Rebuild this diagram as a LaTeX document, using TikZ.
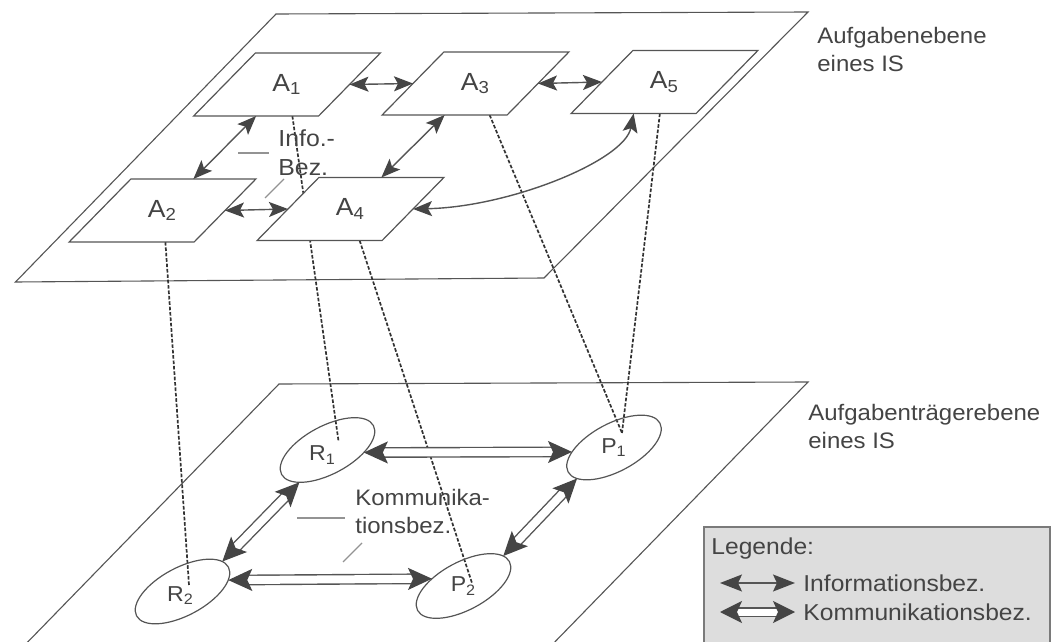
\documentclass[tikz,border=0pt]{standalone}
\usepackage{fontspec}
\setmainfont{Liberation Sans}[FakeStretch=1.07]
\usetikzlibrary{arrows.meta,calc,shapes.geometric}
\pgfdeclarelayer{bg}
\pgfsetlayers{bg,main}
\definecolor{linec}{HTML}{555555}
\definecolor{headc}{HTML}{454545}
\definecolor{txtc}{HTML}{444444}
\definecolor{dashc}{HTML}{333333}
\definecolor{legfill}{HTML}{DDDDDD}
\definecolor{legline}{HTML}{7A7A7A}
\begin{document}
\begin{tikzpicture}[x=0.5pt,y=-0.5pt,
  plane/.style={draw=linec, line width=0.55pt},
  task/.style={draw=linec, fill=white, line width=0.6pt, xslant=0.98,
    minimum width=62.5pt, minimum height=31.5pt, inner sep=0pt, outer sep=0pt},
  actor/.style={ellipse, draw=linec, line width=0.6pt, rotate=28,
    minimum width=52pt, minimum height=24pt, inner sep=0pt, outer sep=0pt},
  alabel/.style={text=txtc, inner sep=0pt, font=\fontsize{12.4}{14}\selectfont},
  rlabel/.style={text=txtc, inner sep=0pt, font=\fontsize{10.8}{13}\selectfont},
  txt/.style={text=txtc, inner sep=0pt, align=left, anchor=west, font=\fontsize{11.2}{14}\selectfont},
  info/.style={draw=linec, line width=0.7pt,
    {Stealth[length=9.5pt,width=7.5pt,inset=2pt,color=headc]}-{Stealth[length=9.5pt,width=7.5pt,inset=2pt,color=headc]}},
  comm/.style={draw=linec, line width=0.7pt, double=white, double distance=4pt,
    {Stealth[length=12pt,width=11pt,inset=2.5pt,color=headc]}-{Stealth[length=12pt,width=11pt,inset=2.5pt,color=headc]}},
  infoL/.style={draw=linec, line width=0.7pt,
    {Stealth[length=11pt,width=8.5pt,inset=2pt,color=headc]}-{Stealth[length=11pt,width=8.5pt,inset=2pt,color=headc]}},
  commL/.style={draw=linec, line width=0.7pt, double=white, double distance=3.5pt,
    {Stealth[length=11pt,width=11pt,inset=2.5pt,color=headc]}-{Stealth[length=11pt,width=11pt,inset=2.5pt,color=headc]}},
  assign/.style={draw=dashc, line width=0.85pt, dash pattern=on 1.8pt off 0.9pt},
  tick/.style={draw=gray!85, line width=0.6pt}
]
\useasboundingbox (0,0) rectangle (1062,642);
\clip (0,0) rectangle (1062,642);

% task level nodes
\node[task] (A1) at (287,84.5) {};
\node[task] (A3) at (475.5,83.5) {};
\node[task] (A5) at (664.5,82) {};
\node[task] (A2) at (162.5,210.5) {};
\node[task] (A4) at (350.5,209) {};
\node[alabel] (tA1) at (A1) {A\textsubscript{1}};
\node[alabel] (tA3) at (A3) {A\textsubscript{3}};
\node[alabel] (tA5) at (A5) {A\textsubscript{5}};
\node[alabel] (tA2) at (A2) {A\textsubscript{2}};
\node[alabel] (tA4) at (A4) {A\textsubscript{4}};

% actor level nodes
\node[actor] (R1) at (327.5,450) {};
\node[actor] (P1) at (614,447.5) {};
\node[actor] (R2) at (182.5,591.5) {};
\node[actor] (P2) at (463.5,586) {};
\node[rlabel] (tR1) at ($(R1.center)+(-5,5)$) {R\textsubscript{1}};
\node[rlabel] (tP1) at (P1) {P\textsubscript{1}};
\node[rlabel] (tR2) at ($(R2.center)+(-2,4)$) {R\textsubscript{2}};
\node[rlabel] (tP2) at (P2) {P\textsubscript{2}};

\begin{pgfonlayer}{bg}
  % planes
  \draw[plane] (276,14) -- (808,12) -- (544,278) -- (15.5,282) -- cycle;
  \draw[plane] (279,384) -- (808,382) -- (547,650) -- (18,652) -- cycle;
  % assignments
  \draw[assign] ($(A1.south west)!0.79!(A1.south east)$) -- ($(R1.center)+(11,-9)$);
  \draw[assign] ($(A2.south west)!0.77!(A2.south east)$) -- ($(R2.center)+(6.5,-6.5)$);
  \draw[assign] ($(A4.south west)!0.82!(A4.south east)$) -- ($(P2.center)+(8.5,-3)$);
  \draw[assign] ($(A3.south west)!0.86!(A3.south east)$) -- ($(P1.center)+(8,-14.5)$);
  \draw[assign] ($(A5.south west)!0.71!(A5.south east)$) -- ($(P1.center)+(8,-14.5)$);
\end{pgfonlayer}

% information relations
\draw[info] (A1.east) -- (A3.west);
\draw[info] (A3.east) -- (A5.west);
\draw[info] (A1.south) -- (A2.north);
\draw[info] (A3.south) -- (A4.north);
\draw[info] (A2.east) -- (A4.west);
\draw[info] (A4.east) .. controls ($(A4.east)+(97,-2)$) and ($(A5.south)+(-9,47)$) .. (A5.south);

% communication relations
\draw[comm] (R1.-32) -- (P1.158);
\draw[comm] (R2.-14) -- (P2.139);
\draw[comm] (R1.201) -- (R2.9);
\draw[comm] (P1.192) -- (P2.9);

% inner labels
\node[txt, font=\fontsize{11.6}{14.5}\selectfont] (infobez) at (278,152.5) {Info.-\\Bez.};
\draw[tick] (238,153) -- (269,153);
\draw[tick] (265,198) -- (284,179);
\node[txt] (kommbez) at (355,511) {Kommunika-\\tionsbez.};
\draw[tick] (297,518) -- (345,518);
\draw[tick] (343,562) -- (362,543);

% level labels
\node[txt] (lvl1) at (817,49) {Aufgabenebene\\eines IS};
\node[txt] (lvl2) at (808,426.5) {Aufgabenträgerebene\\eines IS};

% legend
\draw[draw=legline, fill=legfill, line width=0.8pt] (704,527) rectangle (1050,670);
\node[txt, font=\fontsize{11.5}{14}\selectfont] (leg) at (711,549) {Legende:};
\coordinate (li1) at (720,583);
\coordinate (li2) at (795,583);
\draw[infoL] (li1) -- (li2);
\node[txt, font=\fontsize{11.5}{14}\selectfont] (legi) at (803,583) {Informationsbez.};
\coordinate (lk1) at (720,612);
\coordinate (lk2) at (795,612);
\draw[commL] (lk1) -- (lk2);
\node[txt, font=\fontsize{11.5}{14}\selectfont] (legk) at (803,612) {Kommunikationsbez.};
\end{tikzpicture}
\end{document}
